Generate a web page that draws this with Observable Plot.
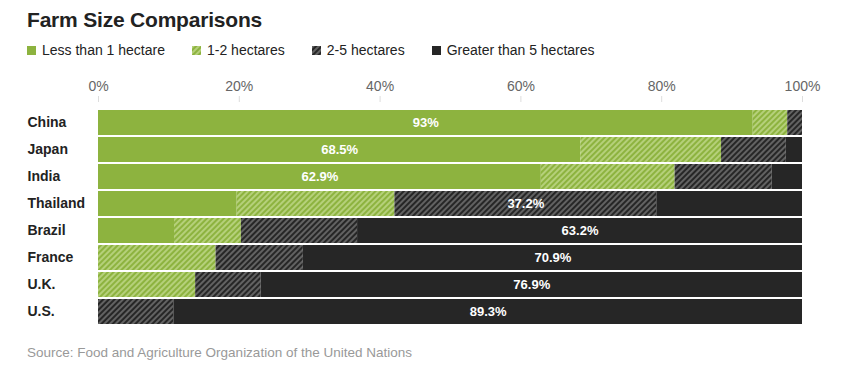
<!DOCTYPE html>
<html>
<head>
<meta charset="utf-8">
<script src="https://cdn.jsdelivr.net/npm/d3@7"></script>
<script src="https://cdn.jsdelivr.net/npm/@observablehq/plot@0.6"></script>
<style>
  body { margin: 0; background: #fff; font-family: "Liberation Sans", Arial, sans-serif; }
  #wrap { width: 847px; position: relative; }
  .title { margin: 9px 0 0 27px; font-size: 21px; line-height: 22px; font-weight: bold; color: #222; letter-spacing: -0.2px; }
  .legend { margin: 10px 0 0 27px; font-size: 14px; line-height: 18px; color: #222; display: flex; align-items: center; height: 18px; }
  .legend .item { display: flex; align-items: center; margin-right: 27px; }
  .legend svg { margin-right: 6px; }
  .caption { margin: 18px 0 0 27px; font-size: 13.5px; line-height: 16px; color: #999; }
</style>
</head>
<body>
<svg width="0" height="0" style="position:absolute">
  <defs>
    <pattern id="hatchGreen" patternUnits="userSpaceOnUse" width="4" height="4" patternTransform="rotate(45)">
      <rect width="4" height="4" fill="#8db33f"></rect>
      <line x1="1" y1="0" x2="1" y2="4" stroke="#c6dd93" stroke-width="1.4"></line>
    </pattern>
    <pattern id="hatchDark" patternUnits="userSpaceOnUse" width="4" height="4" patternTransform="rotate(45)">
      <rect width="4" height="4" fill="#262626"></rect>
      <line x1="1" y1="0" x2="1" y2="4" stroke="#8a8a8a" stroke-width="1.2"></line>
    </pattern>
  </defs>
</svg>
<div id="wrap">
  <div class="title">Farm Size Comparisons</div>
  <div class="legend" id="legend"></div>
  <div id="chart"></div>
  <div class="caption">Source: Food and Agriculture Organization of the United Nations</div>
</div>
<script>
const countries = ["China", "Japan", "India", "Thailand", "Brazil", "France", "U.K.", "U.S."];
const lessThan1 = [93, 68.5, 62.9, 19.7, 10.8, 0, 0, 0];
const from1to2 = [4.9, 20.0, 19.0, 22.4, 9.5, 16.7, 13.8, 0];
const from2to5 = [2.1, 9.2, 13.8, 37.2, 16.5, 12.4, 9.3, 10.7];
const over5 = [0, 2.3, 4.3, 20.7, 63.2, 70.9, 76.9, 89.3];
const categories = ["Less than 1 hectare", "1-2 hectares", "2-5 hectares", "Greater than 5 hectares"];
const xTicks = [0, 20, 40, 60, 80, 100];

const fills = ["#8db33f", "url(#hatchGreen)", "url(#hatchDark)", "#262626"];
const series = [lessThan1, from1to2, from2to5, over5];

// Build segment table
const segments = [];
const labels = [];
countries.forEach((c, i) => {
  let start = 0;
  let best = null;
  series.forEach((s, k) => {
    const v = s[i];
    const seg = {country: c, cat: categories[k], k, x1: start, x2: start + v, value: v};
    segments.push(seg);
    if (!best || v > best.value) best = seg;
    start += v;
  });
  labels.push({country: c, x: (best.x1 + best.x2) / 2, text: best.value + "%"});
});

// Legend
const legend = document.getElementById("legend");
categories.forEach((cat, k) => {
  const item = document.createElement("div");
  item.className = "item";
  item.innerHTML = `<svg width="9" height="9"><rect width="9" height="9" fill="${fills[k]}"></rect></svg><span>${cat}</span>`;
  legend.appendChild(item);
});

const plot = Plot.plot({
  width: 847,
  height: 268,
  marginLeft: 98,
  marginRight: 45,
  marginTop: 48,
  marginBottom: 0,
  style: {fontFamily: "Liberation Sans, Arial, sans-serif", fontSize: "14px", color: "#222", background: "transparent"},
  x: {domain: [0, 100], axis: null},
  y: {domain: countries, padding: 0.09, axis: null},
  marks: [
    ...categories.map((cat, k) => Plot.barX(segments.filter(d => d.k === k && d.value > 0), {
      x1: "x1", x2: "x2", y: "country", fill: fills[k]
    })),
    Plot.axisX({
      anchor: "top", ticks: xTicks, tickSize: 6, dy: -6, tickPadding: 5, label: null,
      tickFormat: d => d + "%", stroke: "#ddd", fill: "#666", fontSize: 14
    }),
    Plot.axisY({
      anchor: "left", tickSize: 0, tickPadding: 3, textAnchor: "start", dx: -68, label: null,
      fontWeight: "bold", fontSize: 14, fill: "#222"
    }),
    Plot.text(labels, {
      x: "x", y: "country", text: "text", fill: "white", fontWeight: "bold", fontSize: 13
    })
  ]
});
document.getElementById("chart").appendChild(plot);
</script>
</body>
</html>
